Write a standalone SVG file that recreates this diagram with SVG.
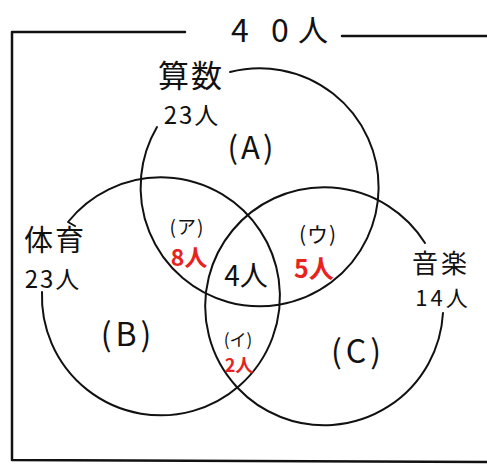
<svg xmlns="http://www.w3.org/2000/svg" width="487" height="467" viewBox="0 0 487 467">
  <style>
    .ln { fill: none; stroke: #111; stroke-width: 2; stroke-linecap: round; stroke-linejoin: round; }
    .fr { fill: none; stroke: #111; stroke-width: 2.5; stroke-linecap: round; stroke-linejoin: round; }
    text { font-family: "Noto Sans CJK JP", "Noto Sans", sans-serif; fill: #111; text-anchor: middle; dominant-baseline: central; }
    .red { fill: #e8231e; font-weight: bold; }
  </style>
  <rect width="487" height="467" fill="#ffffff"/>

  <g id="frame">
    <path class="fr" d="M 185 32 L 12 32 L 12 460 L 487 462"/>
    <path class="fr" d="M 342 36 L 487 36"/>
    <text x="240" y="28" font-size="32">4</text>
    <text x="280" y="28" font-size="32">0</text>
    <text x="313" y="28" font-size="30">人</text>
  </g>

  <g id="setA">
    <path class="ln" d="M 230 72 A 119 119 0 1 1 157 127"/>
    <text x="191" y="73" font-size="31" letter-spacing="2">算数</text>
    <text x="192" y="113" font-size="24" letter-spacing="2">23人</text>
    <text x="252" y="145" font-size="31" letter-spacing="3">(A)</text>
  </g>

  <g id="setB">
    <path class="ln" d="M 75 226 L 68 222 A 119 119 0 1 1 42 292"/>
    <text x="55" y="238" font-size="29" letter-spacing="2">体育</text>
    <text x="53" y="277" font-size="24" letter-spacing="2">23人</text>
    <text x="128" y="332" font-size="32" letter-spacing="4">(B)</text>
  </g>

  <g id="setC">
    <path class="ln" d="M 443 313 A 119 119 0 1 1 425 243"/>
    <text x="441" y="261" font-size="26" letter-spacing="3">音楽</text>
    <text x="443" y="296" font-size="22" letter-spacing="3">14人</text>
    <text x="358" y="349" font-size="32" letter-spacing="4">(C)</text>
  </g>

  <g id="regionAB">
    <text x="187" y="225" font-size="19" letter-spacing="1">(ア)</text>
    <text class="red" x="189" y="256" font-size="23">8人</text>
  </g>

  <g id="regionABC">
    <text x="246" y="274" font-size="28">4人</text>
  </g>

  <g id="regionAC">
    <text x="318" y="233" font-size="21" letter-spacing="1">(ウ)</text>
    <text class="red" x="314" y="267" font-size="25">5人</text>
  </g>

  <g id="regionBC">
    <text x="238" y="338" font-size="17">(イ)</text>
    <text class="red" x="239" y="364" font-size="18">2人</text>
  </g>

  <g id="connectors"></g>
</svg>
